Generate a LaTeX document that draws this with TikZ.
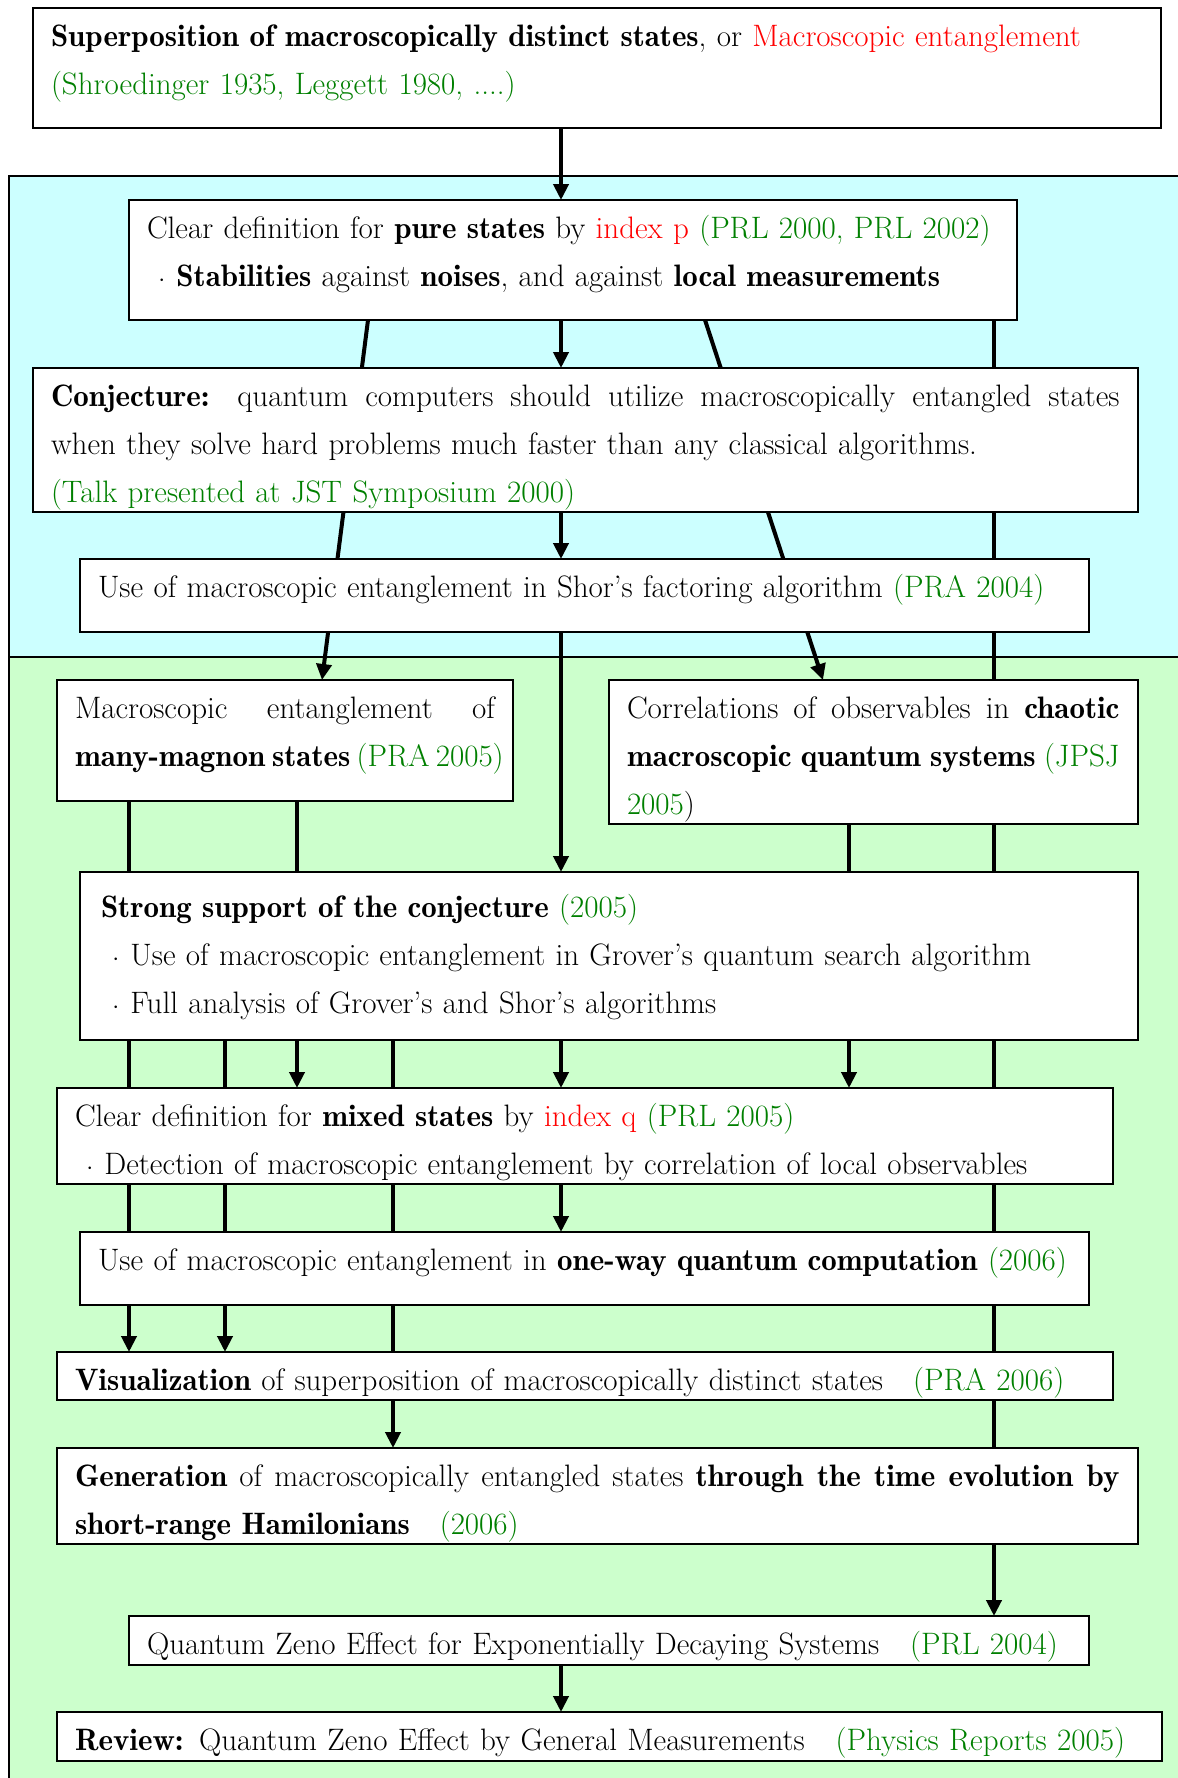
\documentclass[tikz,border=0pt]{standalone}
\renewcommand{\bfdefault}{b}
\usetikzlibrary{arrows.meta}
\definecolor{cyanbg}{RGB}{204,255,255}
\definecolor{greenbg}{RGB}{204,255,204}
\definecolor{refgreen}{RGB}{0,128,0}
\newcommand{\grn}[1]{\textcolor{refgreen}{#1}}
\newcommand{\rdd}[1]{\textcolor{red}{#1}}
\newcommand{\upstrut}[1][38]{\rule{0pt}{#1pt}}
\newcommand{\dnstrut}[1]{\rule[-#1pt]{0pt}{#1pt}}
\newcommand{\jline}[2]{{\spaceskip=0pt\xspaceskip=0pt\makebox[#1][s]{#2}}}
\newcommand{\bul}{\makebox[0.95em]{$\cdot$}}
\pgfdeclarelayer{bg}\pgfdeclarelayer{mid}\pgfsetlayers{bg,mid,main}
\begin{document}
\begin{tikzpicture}[x=1pt, y=-1pt, font=\fontsize{31}{48}\selectfont,
    box/.style={draw, line width=2pt, fill=white, anchor=north west, outer sep=0pt,
      inner xsep=18pt, inner ysep=0pt, align=left},
    arr/.style={line width=4pt, -{Triangle[length=16pt,width=15pt]}}]
  \useasboundingbox (0,0) rectangle (1178,1778);
  % columns of the connectors
  \coordinate (xA) at (129,0);  \coordinate (xB) at (225,0);
  \coordinate (xC) at (297,0);  \coordinate (xD) at (393,0);
  \coordinate (xM) at (561,0);  \coordinate (xE) at (849,0);
  \coordinate (xR) at (994,0);
  \coordinate (xL1) at (368,0); \coordinate (xL2) at (322,0);
  \coordinate (xR1) at (705,0); \coordinate (xR2) at (823,0);
  % boxes
  \node[box, text width=1092pt] (top) at (33,8) {\upstrut\textbf{Superposition of macroscopically distinct states}, or \rdd{Macroscopic entanglement}\\
    \grn{(Shroedinger 1935, Leggett 1980, ....)}\dnstrut{34}};
  \node[box, text width=852pt] (pure) at (129,200) {\upstrut Clear definition for \textbf{pure states} by \rdd{index p} \grn{(PRL 2000, PRL 2002)}\\
    \bul\textbf{Stabilities} against \textbf{noises}, and against \textbf{local measurements}\dnstrut{34}};
  \node[box, text width=1068.5pt] (conj) at (33,368) {\upstrut\jline{1068.5pt}{\textbf{Conjecture:} quantum computers should utilize macroscopically entangled states}\\
    when they solve hard problems much faster than any classical algorithms.\\
    \grn{(Talk presented at JST Symposium 2000)}\dnstrut{10}};
  \node[box, text width=973pt] (shor) at (80,559) {\upstrut Use of macroscopic entanglement in Shor's factoring algorithm \grn{(PRA 2004)}\dnstrut{35}};
  \node[box, text width=420pt] (mag) at (57,680) {\upstrut\jline{420pt}{Macroscopic entanglement of}\\
    \jline{420pt}{\textbf{many-magnon states} \grn{(PRA 2005)}}\dnstrut{35}};
  \node[box, text width=492.5pt] (chaos) at (609,680) {\upstrut\jline{492.5pt}{Correlations of observables in \textbf{chaotic}}\\
    \jline{492.5pt}{\textbf{macroscopic quantum systems} \grn{(JPSJ}}\\
    \grn{2005})\dnstrut{10}};
  \node[box, text width=1015.5pt, inner xsep=21pt] (strong) at (80,872) {\upstrut[45]\textbf{Strong support of the conjecture} \grn{(2005)}\\
    \bul Use of macroscopic entanglement in Grover's quantum search algorithm\\
    \bul Full analysis of Grover's and Shor's algorithms\dnstrut{27}};
  \node[box, text width=1020pt] (mixed) at (57,1088) {\upstrut Clear definition for \textbf{mixed states} by \rdd{index q} \grn{(PRL 2005)}\\
    \bul Detection of macroscopic entanglement by correlation of local observables\dnstrut{10}};
  \node[box, text width=973pt] (oneway) at (80,1232) {\upstrut Use of macroscopic entanglement in \textbf{one-way quantum computation} \grn{(2006)}\dnstrut{35}};
  \node[box, text width=1020pt] (vis) at (57,1352) {\upstrut\textbf{Visualization} of superposition of macroscopically distinct states\hspace{30pt}\grn{(PRA 2006)}\dnstrut{10}};
  \node[box, text width=1044.5pt] (gen) at (57,1448) {\upstrut\jline{1044.5pt}{\textbf{Generation} of macroscopically entangled states \textbf{through the time evolution by}}\\
    \textbf{short-range Hamilonians}\hspace{30pt}\grn{(2006)}\dnstrut{10}};
  \node[box, text width=924pt] (zeno) at (129,1616) {\upstrut Quantum Zeno Effect for Exponentially Decaying Systems\hspace{31pt}\grn{(PRL 2004)}\dnstrut{11}};
  \node[box, text width=1068.5pt] (review) at (57,1712) {\upstrut\textbf{Review:} Quantum Zeno Effect by General Measurements\hspace{31pt}\grn{(Physics Reports 2005)}\dnstrut{11}};
  % shaded regions
  \begin{pgfonlayer}{bg}
    \filldraw[fill=cyanbg, line width=1.5pt] (9,176) rectangle (1195,657);
    \filldraw[fill=greenbg, line width=1.5pt] (9,657) rectangle (1195,1795);
  \end{pgfonlayer}
  % connectors, behind the boxes
  \begin{pgfonlayer}{mid}
    \draw[arr] (top.south -| xM) -- (pure.north -| xM);
    \draw[arr] (pure.south -| xM) -- (conj.north -| xM);
    \draw[arr] (conj.south -| xM) -- (shor.north -| xM);
    \draw[arr] (shor.south -| xM) -- (strong.north -| xM);
    \draw[arr] (strong.south -| xM) -- (mixed.north -| xM);
    \draw[arr] (mixed.south -| xM) -- (oneway.north -| xM);
    \draw[arr] (zeno.south -| xM) -- (review.north -| xM);
    \draw[arr] (pure.south -| xL1) -- (mag.north -| xL2);
    \draw[arr] (pure.south -| xR1) -- (chaos.north -| xR2);
    \draw[arr] (pure.south -| xR) -- (zeno.north -| xR);
    \draw[arr] (mag.south -| xA) -- (vis.north -| xA);
    \draw[arr] (mag.south -| xC) -- (mixed.north -| xC);
    \draw[arr] (chaos.south -| xE) -- (mixed.north -| xE);
    \draw[arr] (strong.south -| xB) -- (vis.north -| xB);
    \draw[arr] (strong.south -| xD) -- (gen.north -| xD);
  \end{pgfonlayer}
\end{tikzpicture}
\end{document}
